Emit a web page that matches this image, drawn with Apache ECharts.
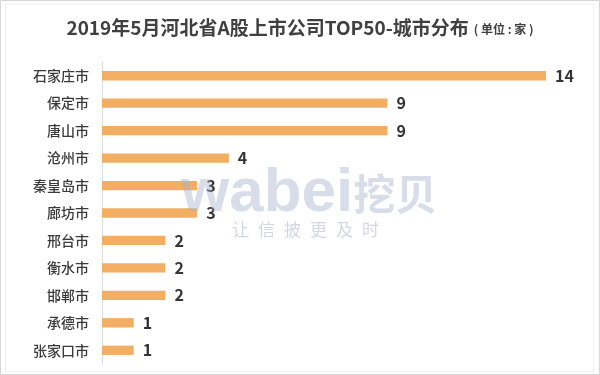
<!DOCTYPE html>
<html>
<head>
<meta charset="utf-8">
<script src="https://cdn.jsdelivr.net/npm/echarts@6/dist/echarts.min.js"></script>
<style>
html,body{margin:0;padding:0;background:#fff;}
#c{width:600px;height:375px;}
</style>
</head>
<body>
<div id="c"></div>
<script>
const categories = ['石家庄市','保定市','唐山市','沧州市','秦皇岛市','廊坊市','邢台市','衡水市','邯郸市','承德市','张家口市'];
const values = [14, 9, 9, 4, 3, 3, 2, 2, 2, 1, 1];
const titleText = '2019年5月河北省A股上市公司TOP50-城市分布';
const unitText = '( 单位 : 家 )';
const tagline = ['让','信','披','更','及','时'];

const chart = echarts.init(document.getElementById('c'));
const FONT = '"Noto Sans CJK SC", "Noto Sans", sans-serif';

const graphics = [
  {type:'rect', shape:{x:0.5,y:0.5,width:599,height:374}, style:{fill:'none', stroke:'#d6d6d6', lineWidth:1}, silent:true},
  {type:'rect', shape:{x:5.5,y:4.5,width:588,height:367}, style:{fill:'none', stroke:'#f0f0f0', lineWidth:1}, silent:true},
  {type:'text', left:181, top:163, z:100, silent:true,
    style:{text:'{w|wabei}{c|挖贝}', rich:{
      w:{fontSize:62, fontWeight:'bold', fontFamily:'"Liberation Sans", Arial, sans-serif', fill:'rgba(165,175,205,0.42)'},
      c:{fontSize:42, fontWeight:'bold', fontFamily:FONT, fill:'rgba(165,175,205,0.42)'}
    }}}
];
tagline.forEach((ch, i) => {
  graphics.push({type:'text', left:232 + i*26, top:221, z:100, silent:true,
    style:{text:ch, fontSize:17, fontFamily:FONT, fill:'rgba(175,182,205,0.55)'}});
});

chart.setOption({
  animation:false,
  title:{
    text:'{a|' + titleText + '}{b|' + unitText + '}',
    left:'center', top:13,
    textStyle:{rich:{
      a:{fontSize:19, fontWeight:'bold', color:'#404040', fontFamily:FONT},
      b:{fontSize:12, color:'#404040', fontFamily:FONT, padding:[3,0,0,5]}
    }}
  },
  grid:{left:102, right:54, top:62, bottom:11, containLabel:false},
  xAxis:{type:'value', min:0, max:14, show:false, splitLine:{show:false}},
  yAxis:{
    type:'category', data:categories, inverse:true,
    axisLine:{show:true, lineStyle:{color:'#d9d9d9', width:1}},
    axisTick:{show:false},
    axisLabel:{fontSize:14, fontWeight:500, color:'#3a3a3a', fontFamily:FONT, margin:13}
  },
  series:[{
    type:'bar', data:values, barWidth:'34%',
    itemStyle:{color:'#F2AE63'},
    label:{show:true, position:'right', distance:9, fontSize:16, fontWeight:'bold', color:'#333', fontFamily:FONT}
  }],
  graphic:graphics
});
</script>
</body>
</html>
